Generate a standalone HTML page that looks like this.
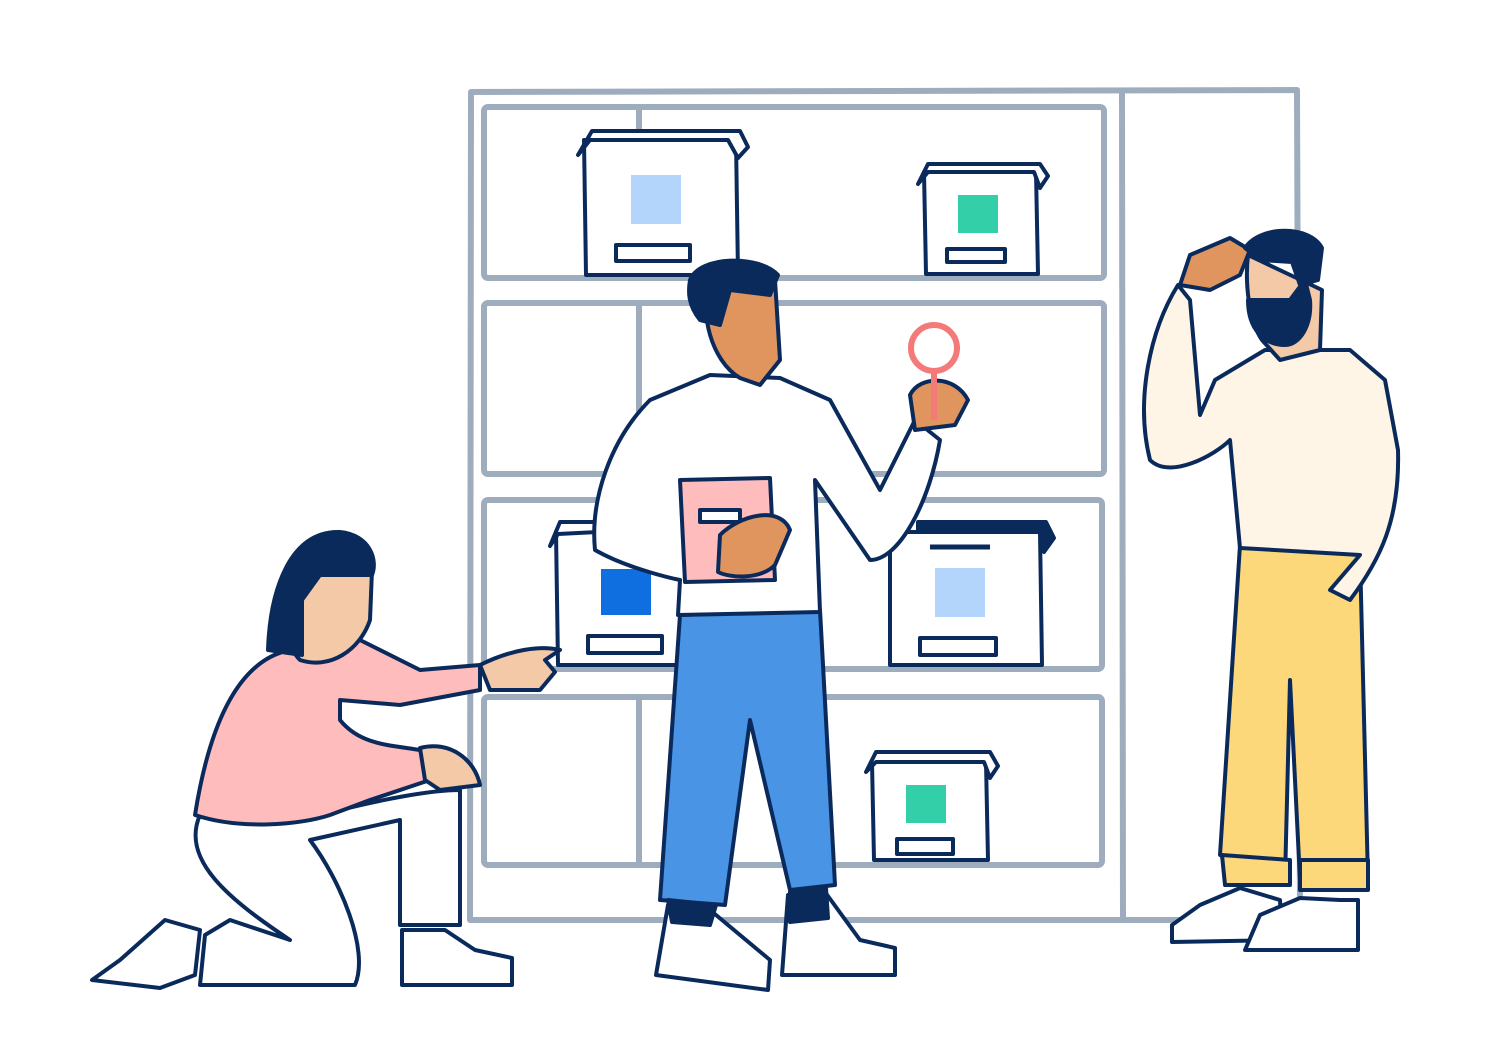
<!DOCTYPE html>
<html><head><meta charset="utf-8"><style>html,body{margin:0;padding:0;background:#fff}svg{display:block}</style></head>
<body>
<svg width="1490" height="1064" viewBox="0 0 1490 1064" xmlns="http://www.w3.org/2000/svg">
<g fill="none" stroke="#9eadbd" stroke-width="6" stroke-linejoin="round">
  <path d="M471 92 L1297 90 L1300 920 L470 920 Z"/>
  <path d="M1122 93 L1123 918"/>
  <rect x="484" y="107" width="620" height="171" rx="4"/>
  <rect x="484" y="303" width="620" height="171" rx="4"/>
  <rect x="484" y="500" width="618" height="169" rx="4"/>
  <rect x="484" y="697" width="618" height="168" rx="4"/>
  <path d="M639 110 V276 M639 306 V472 M639 503 V667 M639 700 V863"/>
</g>
<g stroke="#0b2a5c" stroke-width="4" stroke-linejoin="round" fill="#fff">
  <!-- box 1 -->
  <path d="M584 140 L736 140 L738 275 L586 275 Z"/><path d="M578 155 L592 131 L740 131 L748 147 L738 158 L728 140 L590 140 Z"/>
  <rect x="616" y="245" width="74" height="16"/>
  <!-- box 2 -->
  <path d="M924 172 L1036 172 L1038 274 L926 274 Z"/><path d="M918 184 L928 164 L1040 164 L1048 176 L1040 188 L1034 172 L928 172 Z"/>
  <rect x="947" y="249" width="58" height="13"/>
  <!-- box 3 -->
  <path d="M556 532 L680 532 L680 665 L558 665 Z"/><path d="M550 546 L560 522 L600 522 L598 532 L558 534 Z"/>
  <rect x="588" y="636" width="74" height="17"/>
  <!-- box 4 -->
  <path d="M890 532 L1040 532 L1042 665 L890 665 Z"/><path d="M918 522 L1046 522 L1054 538 L1044 552 L1040 532 L918 532 Z" fill="#0b2a5c"/>
  <rect x="920" y="638" width="76" height="17"/>
  <path d="M930 547 H990" stroke-width="5"/>
  <!-- box 5 -->
  <path d="M872 762 L986 762 L988 860 L874 860 Z"/><path d="M866 772 L876 752 L990 752 L998 766 L990 778 L984 762 L876 762 Z"/>
  <rect x="897" y="839" width="56" height="15"/>
</g>
<rect x="631" y="175" width="50" height="49" fill="#b3d4fb"/>
<rect x="958" y="195" width="40" height="38" fill="#33cfa9"/>
<rect x="601" y="569" width="50" height="46" fill="#0f6fe0"/>
<rect x="935" y="568" width="50" height="49" fill="#b3d4fb"/>
<rect x="906" y="785" width="40" height="38" fill="#33cfa9"/>
<!-- woman -->
<g stroke="#0b2a5c" stroke-width="4" stroke-linejoin="round" stroke-linecap="round">
  <path d="M200 815 C180 860 230 900 290 940 L230 920 L205 935 L200 985 L355 985 C370 950 340 880 310 840 L400 820 L400 925 L460 925 L460 790 C430 790 380 800 340 810 Z" fill="#fff"/>
  <path d="M120 960 L165 920 L200 930 L195 975 L160 988 L92 980 Z" fill="#fff"/>
  <path d="M402 930 L445 930 L475 950 L512 958 L512 985 L402 985 Z" fill="#fff"/>
  <path d="M290 650 C240 660 210 720 195 815 C240 830 300 825 330 815 L370 800 L430 780 L420 750 C390 745 360 745 340 720 L340 700 L400 705 L480 690 L480 665 L420 670 L360 640 Z" fill="#ffbcbc"/>
  <path d="M480 665 C510 650 540 645 560 650 L545 660 L555 672 L540 690 L490 690 Z" fill="#f3c9a8"/>
  <path d="M420 748 C450 740 475 760 480 785 L440 790 L425 780 Z" fill="#f3c9a8"/>
  <path d="M300 560 C285 600 280 640 300 660 C330 670 360 650 370 620 L372 570 Z" fill="#f3c9a8"/>
  <path d="M268 650 C270 590 290 530 340 532 C370 535 378 560 372 575 L320 575 L302 600 L302 655 Z" fill="#0b2a5c"/>
</g>
<!-- middle man -->
<g stroke="#0b2a5c" stroke-width="4" stroke-linejoin="round" stroke-linecap="round">
  <path d="M680 615 L660 900 L725 905 L750 720 L790 890 L835 885 L820 610 Z" fill="#4a94e6"/>
  <path d="M668 905 L710 910 L740 935 L770 960 L768 990 L656 975 Z" fill="#fff"/>
  <path d="M788 895 L825 892 L860 940 L895 948 L895 975 L782 975 Z" fill="#fff"/>
  <path d="M668 900 L716 905 L710 925 L672 922 Z M790 892 L826 888 L828 918 L790 922 Z" fill="#0b2a5c"/>
  <path d="M710 375 L650 400 C610 440 590 500 595 550 C630 570 680 580 680 580 L678 615 L820 612 L815 480 L870 560 C900 560 930 500 940 440 L915 420 L880 490 L830 400 L780 378 Z" fill="#fff"/>
  <path d="M710 290 C700 310 710 360 740 378 L760 385 L780 360 L775 280 Z" fill="#e0955f"/>
  <path d="M690 280 C700 255 760 255 778 275 L770 295 L730 290 L720 325 L700 320 C688 305 688 292 690 280 Z" fill="#0b2a5c"/>
  <path d="M680 480 L770 478 L775 580 L685 582 Z" fill="#ffbcbc"/>
  <path d="M700 510 H740 V522 H700 Z" fill="#fff"/>
  <path d="M720 535 C740 515 780 505 790 530 L775 565 C760 580 730 578 718 572 Z" fill="#e0955f"/>
  <path d="M910 395 C920 375 955 375 968 400 L955 425 L915 430 Z" fill="#e0955f"/>
</g>
<circle cx="934" cy="348" r="23" fill="#fff" stroke="#f47a7a" stroke-width="6"/>
<path d="M934 372 V420" stroke="#f47a7a" stroke-width="6"/>
<!-- right man -->
<g stroke="#0b2a5c" stroke-width="4" stroke-linejoin="round" stroke-linecap="round">
  <path d="M1240 545 L1220 855 L1285 880 L1290 680 L1300 880 L1368 880 L1360 555 Z" fill="#fdd87a"/>
  <path d="M1222 855 L1290 860 L1290 885 L1225 885 Z M1300 860 L1368 860 L1368 890 L1300 890 Z" fill="#fdd87a"/>
  <path d="M1200 905 L1240 888 L1280 900 L1282 940 L1172 942 L1172 925 Z" fill="#fff"/>
  <path d="M1260 915 L1300 898 L1340 900 L1358 900 L1358 950 L1245 950 Z" fill="#fff"/>
  <path d="M1265 350 L1215 380 L1200 415 L1190 300 L1178 285 C1150 330 1135 400 1150 460 C1170 480 1215 455 1230 440 L1240 548 L1360 555 L1330 590 L1350 600 C1380 560 1400 520 1398 450 L1385 380 L1350 350 Z" fill="#fff5e6"/>
  <path d="M1180 285 L1190 255 L1230 238 L1250 250 L1240 275 L1210 290 Z" fill="#e0955f"/>
  <path d="M1248 255 C1245 280 1248 320 1262 340 L1280 360 L1320 350 L1322 290 Z" fill="#f3c9a8"/>
  <path d="M1248 300 C1248 330 1265 345 1285 345 C1300 345 1312 325 1310 300 L1305 280 L1290 300 Z" fill="#0b2a5c"/>
  <path d="M1245 248 C1260 225 1310 225 1322 248 L1318 280 L1300 285 L1292 262 L1260 260 Z" fill="#0b2a5c"/>
</g>
</svg>
</body></html>
